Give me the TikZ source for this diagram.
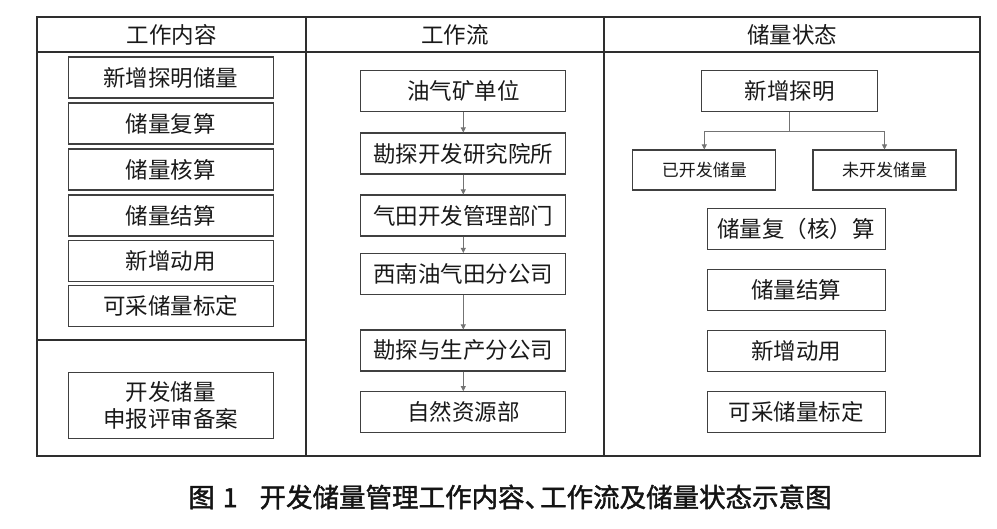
\documentclass[tikz,border=0pt]{standalone}
\usepackage{fontspec}
\setmainfont{Noto Sans CJK SC}
\newfontfamily\capfont{Noto Sans CJK SC}[FakeBold=1.6]
\usetikzlibrary{arrows.meta}
\begin{document}
\begin{tikzpicture}[x=1pt,y=-1pt,
  frame/.style={draw=black!82, line width=1.4pt},
  bx/.style={draw=black!75, line width=1.1pt, rectangle, inner sep=0pt,
    font=\fontsize{22.5}{27}\selectfont, text=black!90, align=center},
  lbx/.style={bx, minimum width=205pt, minimum height=41pt},
  mbx/.style={bx, minimum width=205pt, minimum height=41pt},
  rbx/.style={bx, minimum width=177.7pt, minimum height=41pt},
  sbx/.style={bx, font=\fontsize{17}{20}\selectfont, minimum width=143pt, minimum height=40pt},
  hd/.style={font=\fontsize{22.5}{27}\selectfont, text=black!90, inner sep=0pt},
  arr/.style={draw=black!55, line width=0.8pt, -{Triangle[width=5pt,length=5pt]}},
  ln/.style={draw=black!55, line width=0.8pt}]
\useasboundingbox (0,0) rectangle (997,528);
% table frame
\draw[frame] (37,17) rectangle (980,456);
\draw[frame] (306,17) -- (306,456);
\draw[frame] (604,17) -- (604,456);
\draw[frame] (37,52) -- (980,52);
\draw[frame] (37,340) -- (306,340);
% headers
\node[hd] (h1) at (171.5,35) {工作内容};
\node[hd] (h2) at (455,35) {工作流};
\node[hd] (h3) at (792,35) {储量状态};
% left column
\node[lbx] (l1) at (170.8,77.5) {新增探明储量};
\node[lbx] (l2) at (170.8,123.5) {储量复算};
\node[lbx] (l3) at (170.8,169.5) {储量核算};
\node[lbx] (l4) at (170.8,215.5) {储量结算};
\node[lbx] (l5) at (170.8,260.8) {新增动用};
\node[lbx] (l6) at (170.8,306.3) {可采储量标定};
\node[lbx, minimum height=66pt] (l7) at (170.8,405.5) {开发储量\\申报评审备案};
% middle column
\node[mbx] (m1) at (463.3,91) {油气矿单位};
\node[mbx] (m2) at (463.3,153.5) {勘探开发研究院所};
\node[mbx] (m3) at (463.3,215.5) {气田开发管理部门};
\node[mbx] (m4) at (463.3,274) {西南油气田分公司};
\node[mbx] (m5) at (463.3,350.5) {勘探与生产分公司};
\node[mbx] (m6) at (463.3,412.2) {自然资源部};
\draw[arr] (m1) -- (m2);
\draw[arr] (m2) -- (m3);
\draw[arr] (m3) -- (m4);
\draw[arr] (m4) -- (m5);
\draw[arr] (m5) -- (m6);
% right column
\node[bx, minimum width=176pt, minimum height=41pt] (xz) at (789.7,91.2) {新增探明};
\node[sbx] (ykf) at (704.3,170) {已开发储量};
\node[sbx] (wkf) at (884.5,170) {未开发储量};
\coordinate (br) at (789.7,131);
\draw[ln] (xz.south) -- (br);
\draw[arr] (br) -| (ykf.north);
\draw[arr] (br) -| (wkf.north);
\node[rbx] (r1) at (796.2,228.7) {储量复（核）算};
\node[rbx] (r2) at (796.2,289.7) {储量结算};
\node[rbx] (r3) at (796.2,351.2) {新增动用};
\node[rbx] (r4) at (796.2,412.2) {可采储量标定};
% caption
\node[font=\capfont\fontsize{26.5}{30}\selectfont, text=black!92, inner sep=0pt] (cap) at (510,497)
  {图\hspace{8pt}1\hspace{22pt}开发储量管理工作内容、\kern-11pt 工作流及储量状态示意图};
\end{tikzpicture}
\end{document}
